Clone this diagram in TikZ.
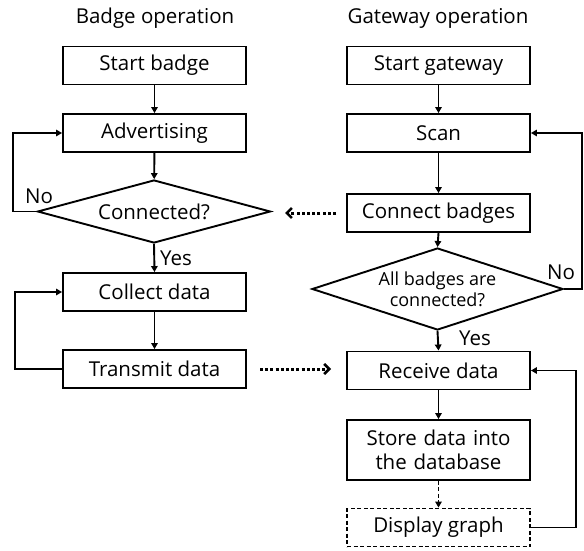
\documentclass[tikz,border=0pt]{standalone}
\usepackage{fontspec}
\setmainfont{Open Sans}
\usetikzlibrary{shapes.geometric,arrows.meta}
\begin{document}
\begin{tikzpicture}[x=1pt,y=-1pt,
  font=\fontsize{20.5}{24}\selectfont,
  stepbox/.style={draw,line width=1.9pt,minimum width=183pt,minimum height=38pt,inner sep=0pt,align=center},
  dashbox/.style={stepbox,dashed,dash pattern=on 4pt off 2.5pt},
  decision/.style={draw,diamond,line width=1.9pt,inner sep=0pt,align=center},
  flow/.style={line width=1.9pt,-{Triangle[length=6pt,width=6.5pt]}},
  dflow/.style={flow,dashed,dash pattern=on 4pt off 2.5pt},
  link/.style={line width=3pt,dash pattern=on 3pt off 2.2pt,-{Straight Barb[length=5pt,width=10pt,line width=2.6pt]}},
  lbl/.style={inner sep=0pt}
]
\useasboundingbox (0,0) rectangle (584,551);

% column titles
\node (t1) at (155,18) {Badge operation};
\node (t2) at (438,18) {Gateway operation};

% badge side
\node[stepbox] (sb) at (154.5,65.5) {Start badge};
\node[stepbox] (adv) at (154.5,133) {Advertising};
\node[decision,minimum width=233pt,minimum height=63pt,aspect=3.7] (con) at (154,211.5) {Connected?};
\node[stepbox] (col) at (154.5,292) {Collect data};
\node[stepbox] (tx) at (154.5,369) {Transmit data};

% gateway side
\node[stepbox] (sg) at (438.5,65.5) {Start gateway};
\node[stepbox] (scan) at (438.5,133) {Scan};
\node[stepbox] (cb) at (438.5,213) {Connect badges};
\node[decision,minimum width=251pt,minimum height=82pt,aspect=3.06,font=\fontsize{18}{21}\selectfont] (all) at (437.5,289) {All badges are\\connected?};
\node[stepbox] (rx) at (438.5,370.5) {Receive data};
\node[stepbox,minimum height=60pt,text width=175pt] (st) at (438.5,450) {Store data into\\the database};
\node[dashbox] (dg) at (438.5,527.5) {Display graph};

% loop corners
\coordinate (c1) at (13,211.5);
\coordinate (c2) at (13,133);
\coordinate (c3) at (15,369);
\coordinate (c4) at (15,292);
\coordinate (c5) at (582,289);
\coordinate (c6) at (582,133);
\coordinate (c7) at (576,527.5);
\coordinate (c8) at (576,370.5);
\coordinate (d1) at (285,213);
\coordinate (d2) at (260,369);
\coordinate (d3) at (331,369);

% badge flow
\draw[flow] (sb) -- (adv);
\draw[flow] (adv) -- (con);
\draw[flow] (con.west) -- (c1) -- (c2) -- (adv.west);
\draw[flow] (con.south) -- (col.north);
\draw[flow] (col) -- (tx);
\draw[flow] (tx.west) -- (c3) -- (c4) -- (col.west);

% gateway flow
\draw[flow] (sg) -- (scan);
\draw[flow] (scan) -- (cb);
\draw[flow] (cb.south) -- (all.north);
\draw[flow] (all.east) -- (c5) -- (c6) -- (scan.east);
\draw[flow] (all.south) -- (rx.north);
\draw[flow] (rx) -- (st);
\draw[dflow] (st.south) -- (dg.north);
\draw[flow] (dg.east) -- (c7) -- (c8) -- (rx.east);

% messages between badge and gateway
\draw[link] (cb.west) ++(-10,0) -- (d1);
\draw[link] (d2) -- (d3);

% branch labels
\node[lbl,anchor=south west] (no1) at (25,204) {No};
\node[lbl,anchor=west] (yes1) at (160,258) {Yes};
\node[lbl,anchor=south west] (no2) at (547,280) {No};
\node[lbl,anchor=west] (yes2) at (459,338) {Yes};
\end{tikzpicture}
\end{document}
